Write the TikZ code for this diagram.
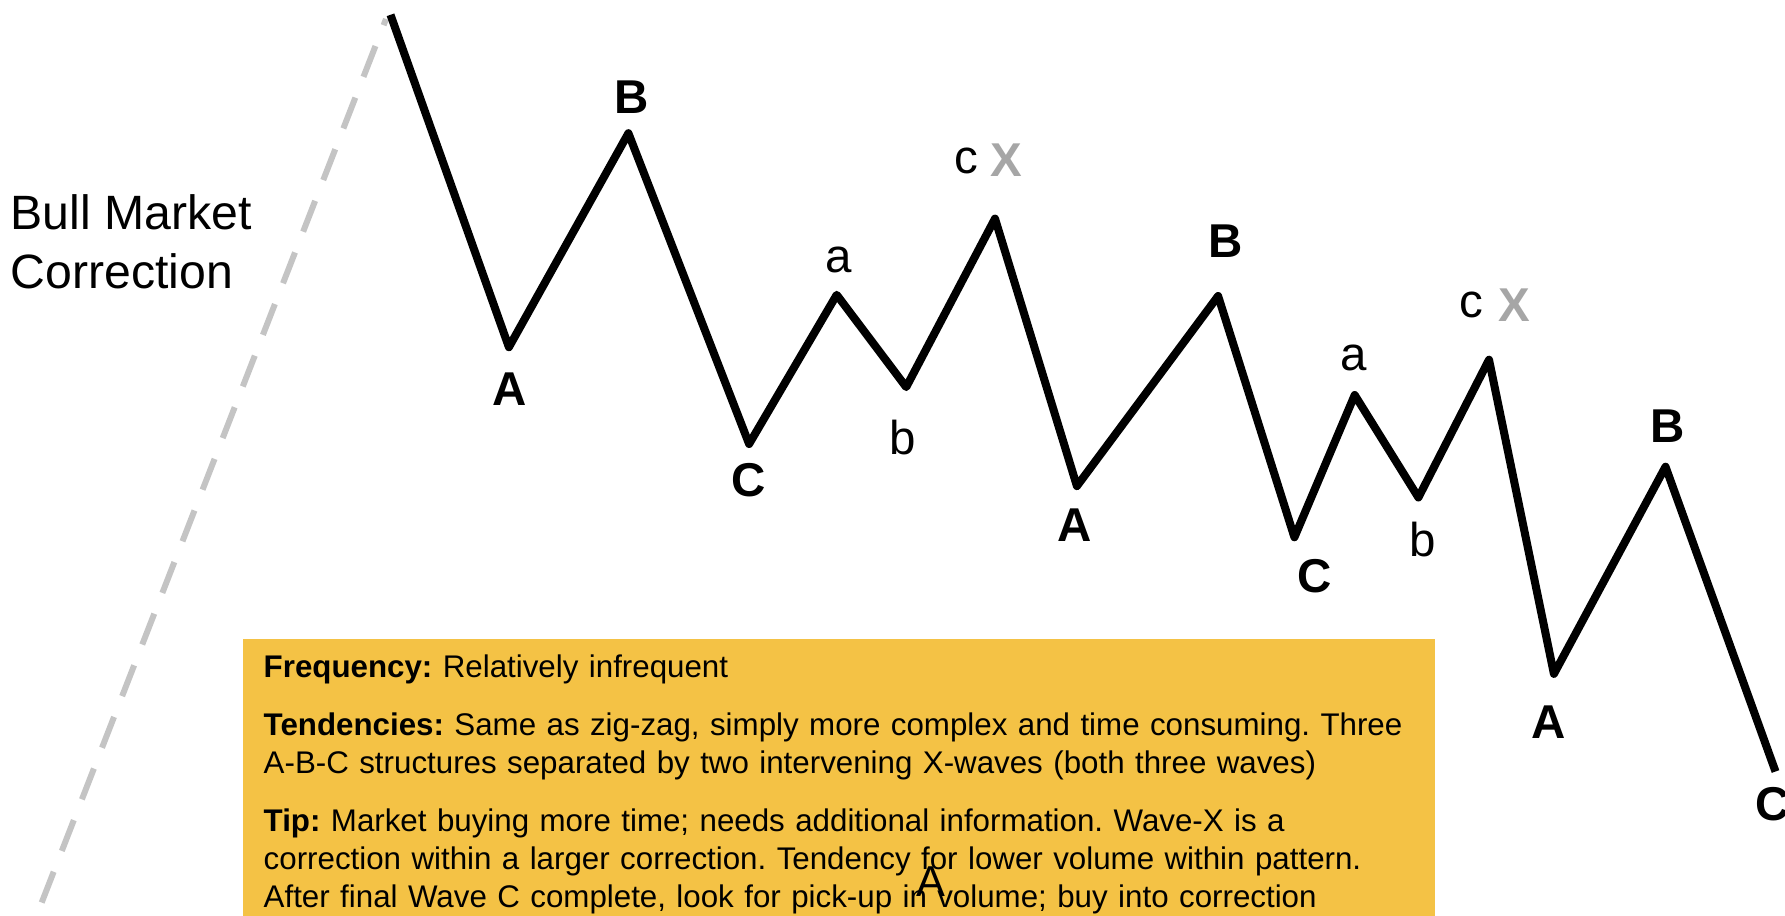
\documentclass[tikz,border=0pt]{standalone}
\usepackage{fontspec}
\setmainfont{Liberation Sans}
\usepackage{tikz}
\usetikzlibrary{positioning}

\definecolor{notebox}{HTML}{F4C245}
\definecolor{trendgray}{HTML}{C4C4C4}
\definecolor{xgray}{HTML}{A6A6A6}

\frenchspacing

\begin{document}
\begin{tikzpicture}[x=0.01cm, y=-0.01cm,
        wave/.style={draw=black, line width=2.28pt, line join=round},
        trend/.style={draw=trendgray, line width=1.7pt, dash pattern=on 9.4pt off 6.35pt, dash phase=7.5pt},
        bigwave/.style={inner sep=0pt, font=\fontsize{13.5}{16}\selectfont\bfseries},
        subwave/.style={inner sep=0pt, font=\fontsize{13.5}{16}\selectfont},
        xwave/.style={bigwave, text=xgray},
        tipbox/.style={fill=notebox, anchor=north west, align=left, text width=11.5cm, inner xsep=0.205cm, inner ysep=0.154cm, font=\fontsize{8.9}{10.8}\selectfont}
    ]
        \useasboundingbox (0,0) rectangle (1785,915);

        % Title
        \node[anchor=west, align=left, inner sep=0pt, font=\fontsize{13.7}{16.8}\selectfont] (title) at (10,242) {Bull Market\\Correction};

        % Trend line
        \coordinate (t0) at (386,19);
        \coordinate (t1) at (31,930);
        \draw[trend] (t0) -- (t1);

        % Wave points
        \coordinate (w0) at (390.5,14.8);
        \coordinate (A1) at (508.9,347.2);
        \coordinate (B1) at (628.4,133.2);
        \coordinate (C1) at (749.1,444.0);
        \coordinate (a1) at (836.7,294.8);
        \coordinate (b1) at (906.2,387.1);
        \coordinate (X1) at (995.0,218.6);
        \coordinate (A2) at (1076.9,486.1);
        \coordinate (B2) at (1218.1,296.0);
        \coordinate (C2) at (1294.4,537.3);
        \coordinate (a2) at (1354.7,395.0);
        \coordinate (b2) at (1418.4,497.5);
        \coordinate (X2) at (1489.0,359.7);
        \coordinate (A3) at (1553.9,673.9);
        \coordinate (B3) at (1665.5,466.7);
        \coordinate (C3) at (1775.5,771.5);

        \draw[wave] (w0) -- (A1) -- (B1) -- (C1) -- (a1) -- (b1) -- (X1) -- (A2) -- (B2) -- (C2) -- (a2) -- (b2) -- (X2) -- (A3) -- (B3) -- (C3);

        % Wave labels
        \node[bigwave] (lA1) at (510,389) {A};
        \node[bigwave] (lB1) at (632,97) {B};
        \node[bigwave] (lC1) at (749,480) {C};
        \node[subwave] (la1) at (839,260) {a};
        \node[subwave] (lb1) at (903,438) {b};
        \node[subwave] (lc1) at (966.5,160.5) {c};
        \node[xwave] (lX1) at (1006,160.5) {X};
        \node[bigwave] (lA2) at (1074.6,524.8) {A};
        \node[bigwave] (lB2) at (1226,241) {B};
        \node[bigwave] (lC2) at (1315,576) {C};
        \node[subwave] (la2) at (1353.5,357.5) {a};
        \node[subwave] (lb2) at (1423,539.6) {b};
        \node[subwave] (lc2) at (1471,305) {c};
        \node[xwave] (lX2) at (1514,305) {X};
        \node[bigwave] (lA3) at (1549,721.8) {A};
        \node[bigwave] (lB3) at (1668,425.8) {B};
        \node[bigwave] (lC3) at (1772.5,803.7) {C};

        % Notes
        \node[tipbox] (tips) at (242.5,638.6) {\textbf{Frequency:} Relatively infrequent\\[5.7pt]
            \textbf{Tendencies:} Same as zig-zag, simply more complex and time consuming. Three\\
            A-B-C structures separated by two intervening X-waves (both three waves)\\[5.7pt]
            \textbf{Tip:} Market buying more time; needs additional information. Wave-X is a\\
            correction within a larger correction. Tendency for lower volume within pattern.\\
            After final Wave C complete, look for pick-up in volume; buy into correction};
        \node[inner sep=0pt, font=\fontsize{12.3}{14}\selectfont] (stray) at (931,882) {A};
    \end{tikzpicture}
\end{document}
